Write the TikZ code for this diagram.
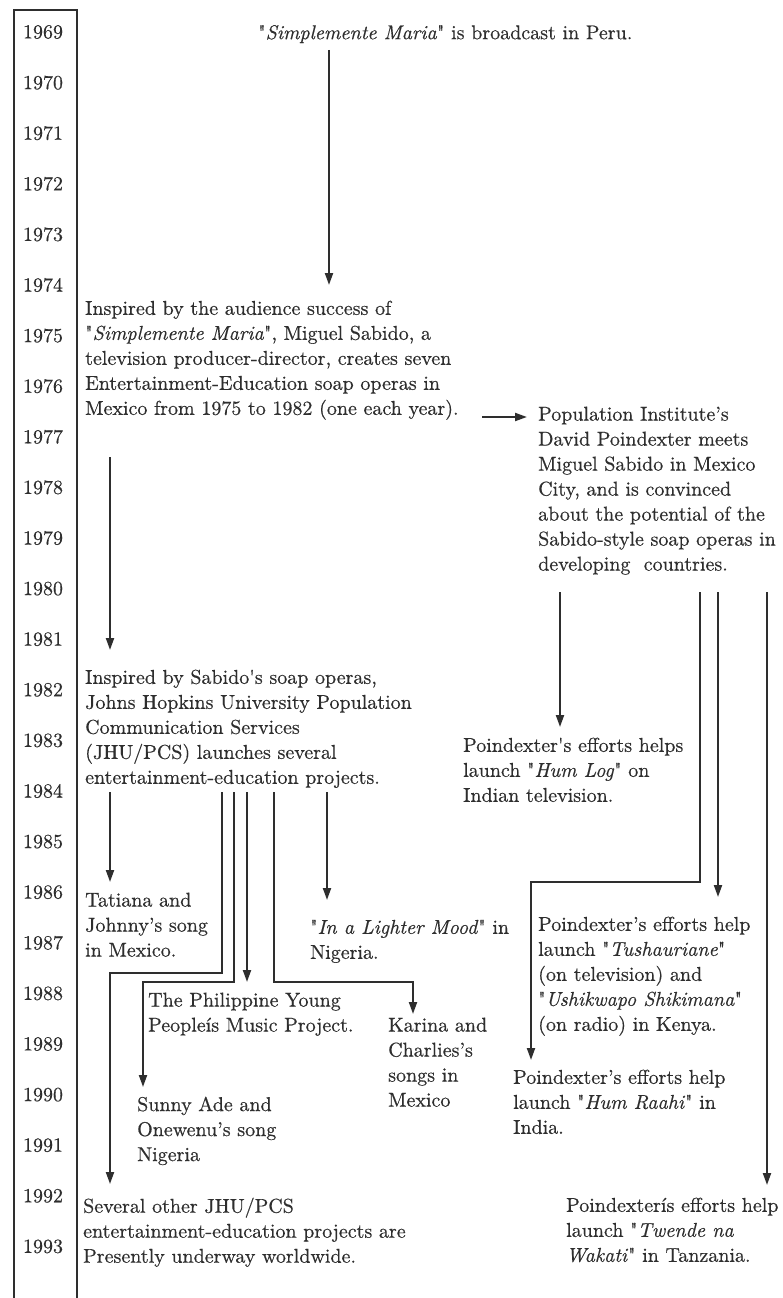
\documentclass[tikz,border=0pt]{standalone}
\usepackage{fontspec}
\setmainfont{lmroman10}[Extension=.otf, UprightFont=*-regular, ItalicFont=*-italic,
  UprightFeatures={FakeBold=0.5}, ItalicFeatures={FakeBold=0.5}]
\usepackage{tikz}
\usetikzlibrary{arrows.meta}
\definecolor{ink}{HTML}{2E2E2E}
\newcommand{\quoted}[1]{\textquotedbl#1\textquotedbl}
\begin{document}
\begin{tikzpicture}[x=1pt,y=-1pt,
  every node/.style={font=\fontsize{20}{25}\selectfont, text=ink},
  event/.style={anchor=north west, align=left, inner sep=0pt, execute at begin node=\strut},
  year/.style={inner sep=0pt},
  arr/.style={draw=ink, line width=2pt, -{Triangle[length=12pt,width=8pt]}}]
\useasboundingbox (0,0) rectangle (782,1298);

% year column
\draw[ink, line width=1.5pt] (14,1298) -- (14,10) -- (77,10) -- (77,1298);
\foreach \yr [count=\i from 0] in {1969,...,1993}
  \node[year] (y\yr) at (43,{32+50.6*\i}) {\yr};

% events
\node[event] (sm) at (258,21.5) {\quoted{\textit{Simplemente Maria}} is broadcast in Peru.};
\node[event] (insp) at (85,300.5) {Inspired by the audience success of\\
  \quoted{\textit{Simplemente Maria}}, Miguel Sabido, a\\
  television producer-director, creates seven\\
  Entertainment-Education soap operas in\\
  Mexico from 1975 to 1982 (one each year).};
\node[event] (pop) at (538,406.5) {Population Institute's\\
  David Poindexter meets\\
  Miguel Sabido in Mexico\\
  City, and is convinced\\
  about the potential of the\\
  Sabido-style soap operas in\\
  developing\ \ countries.};
\node[event] (jhu) at (85,669.5) {Inspired by Sabido\textquotesingle s soap operas,\\
  Johns Hopkins University Population\\
  Communication Services\\
  (JHU/PCS) launches several\\
  entertainment-education projects.};
\node[event] (humlog) at (463,737.5) {Poindexter\textquotesingle s efforts helps\\
  launch \quoted{\textit{Hum Log}} on\\
  Indian television.};
\node[event] (tatiana) at (85,892.5) {Tatiana and\\ Johnny's song\\ in Mexico.};
\node[event] (lighter) at (310,919.5) {\quoted{\textit{In a Lighter Mood}} in\\ Nigeria.};
\node[event] (tush) at (538,916.5) {Poindexter's efforts help\\
  launch \quoted{\textit{Tushauriane}}\\
  (on television) and\\
  \quoted{\textit{Ushikwapo Shikimana}}\\
  (on radio) in Kenya.};
\node[event] (phil) at (148,992.5) {The Philippine Young\\ Peopleís Music Project.};
\node[event] (karina) at (388,1017.5) {Karina and\\ Charlies's\\ songs in\\ Mexico};
\node[event] (raahi) at (513,1069.5) {Poindexter's efforts help\\
  launch \quoted{\textit{Hum Raahi}} in\\
  India.};
\node[event] (sunny) at (137,1096.5) {Sunny Ade and\\ Onewenu's song\\ Nigeria};
\node[event] (several) at (83,1197.5) {Several other JHU/PCS\\
  entertainment-education projects are\\
  Presently underway worldwide.};
\node[event] (twende) at (566,1197.5) {Poindexterís efforts help\\
  launch \textquotedbl\textit{Twende na}\\
  \textit{Wakati}\textquotedbl{} in Tanzania.};

% arrow starts
\coordinate (s1) at (329,50);
\coordinate (i1) at (110,457);
\coordinate (i2) at (482,417);
\coordinate (p1) at (560,592);
\coordinate (p2) at (700,592);
\coordinate (p3) at (718,592);
\coordinate (p4) at (767,592);
\coordinate (j1) at (110,792);
\coordinate (j2) at (222,792);
\coordinate (j3) at (234,792);
\coordinate (j4) at (247,792);
\coordinate (j5) at (274,792);
\coordinate (j6) at (327,792);

\draw[arr, shorten >=15.5pt] (s1) -- (s1 |- insp.north);
\draw[arr, shorten >=19.5pt] (i1) -- (i1 |- jhu.north);
\draw[arr, shorten >=11pt] (i2) -- (i2 -| pop.west);

\draw[arr, shorten >=10.5pt] (p1) -- (p1 |- humlog.north);
\draw[arr, shorten >=9.5pt] (p2) -- ++(0,290) -| ([xshift=18pt]raahi.north west);
\draw[arr, shorten >=19.5pt] (p3) -- (p3 |- tush.north);
\draw[arr, shorten >=12.5pt] (p4) -- (p4 |- twende.north);

\draw[arr, shorten >=10.5pt] (j1) -- (j1 |- tatiana.north);
\draw[arr, shorten >=13.5pt] (j2) -- ++(0,181) -| ([xshift=27pt]several.north west);
\draw[arr, shorten >=9.5pt] (j3) -- ++(0,190) -| ([xshift=6pt]sunny.north west);
\draw[arr, shorten >=10.5pt] (j4) -- (j4 |- phil.north);
\draw[arr, shorten >=3.5pt] (j5) -- ++(0,190) -| ([xshift=25pt]karina.north west);
\draw[arr, shorten >=19.5pt] (j6) -- (j6 |- lighter.north);
\end{tikzpicture}
\end{document}
